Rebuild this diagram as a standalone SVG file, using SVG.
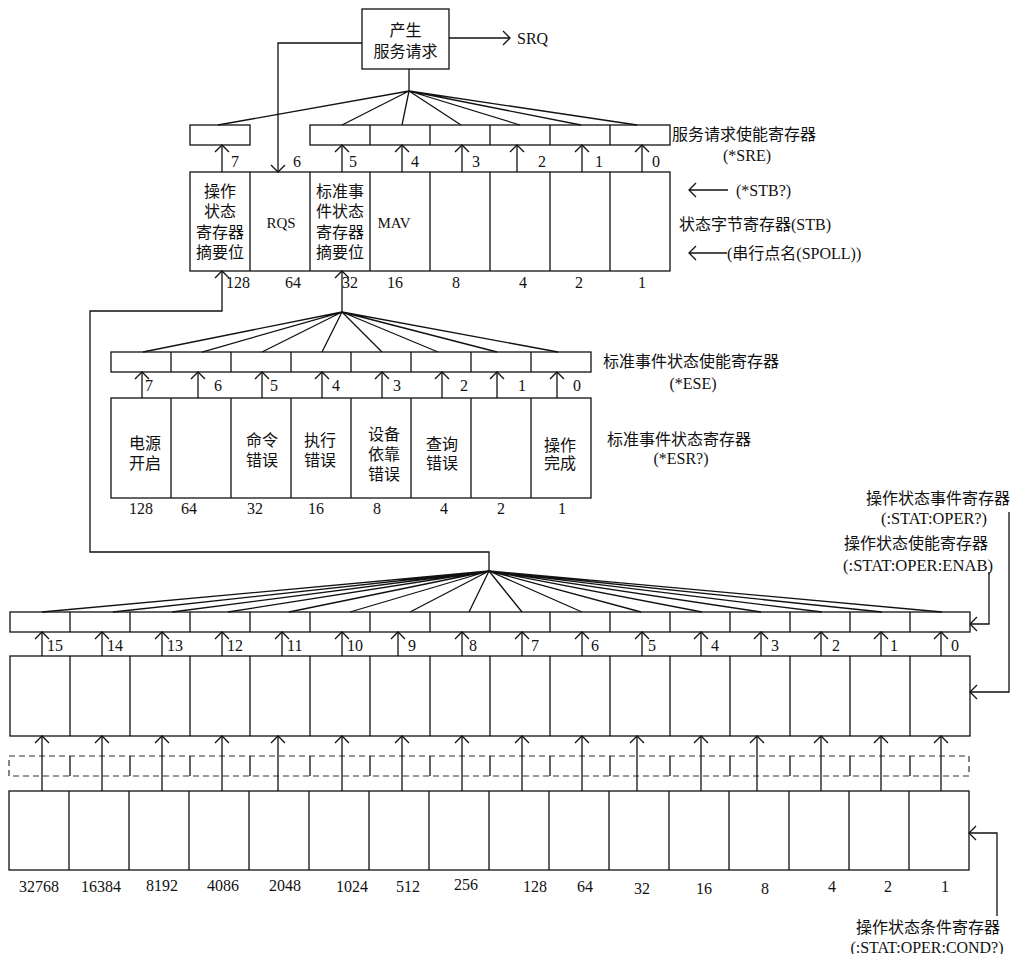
<svg xmlns="http://www.w3.org/2000/svg" width="1013" height="954" viewBox="0 0 1013 954">
<style>
.l{fill:none;stroke:#111;stroke-width:1.3}
.d{fill:none;stroke:#333;stroke-width:1.2;stroke-dasharray:6,4}
.t{font-family:"Liberation Serif","Times New Roman","DejaVu Serif","Noto Sans CJK SC",serif;font-size:16px;fill:#111}
.s{font-size:15px}
.m{text-anchor:middle}
.e{text-anchor:end}
.a{marker-end:url(#ah)}
</style>
<defs>
<marker id="ah" viewBox="-9 -9 18 18" markerWidth="18" markerHeight="18" refX="0" refY="0" orient="auto" markerUnits="userSpaceOnUse">
<path d="M-7,-7 L0,0 L-7,7" fill="none" stroke="#111" stroke-width="1.3"/>
</marker>
</defs>
<rect width="1013" height="954" fill="#fff"/>

<g id="gen-srq">
<rect class="l" x="362" y="9" width="87" height="60"/>
<text class="t m" x="405.5" y="36">产生</text>
<text class="t m" x="405.5" y="57">服务请求</text>
</g>
<text class="t" x="517" y="44">SRQ</text>

<g id="sre">
<rect class="l" x="190" y="125" width="60" height="20"/>
<rect class="l" x="310" y="125" width="360" height="20"/>
<path class="l" d="M370,125V145M430,125V145M490,125V145M550,125V145M610,125V145"/>
<text class="t" x="672" y="140">服务请求使能寄存器</text>
<text class="t m" x="747" y="161">(*SRE)</text>
</g>

<g id="stb">
<rect class="l" x="190" y="172" width="480" height="99"/>
<path class="l" d="M250,172V271M310,172V271M370,172V271M430,172V271M490,172V271M550,172V271M610,172V271"/>
<text class="t m" x="220" y="197">操作</text>
<text class="t m" x="220" y="217">状态</text>
<text class="t m" x="220" y="238">寄存器</text>
<text class="t m" x="220" y="258">摘要位</text>
<text class="t m s" x="281" y="228">RQS</text>
<text class="t m" x="340" y="197">标准事</text>
<text class="t m" x="340" y="217">件状态</text>
<text class="t m" x="340" y="238">寄存器</text>
<text class="t m" x="340" y="258">摘要位</text>
<text class="t m s" x="394" y="228">MAV</text>
<text class="t" x="736" y="196">(*STB?)</text>
<text class="t" x="679" y="230">状态字节寄存器(STB)</text>
<text class="t" x="727" y="259">(串行点名(SPOLL))</text>
</g>

<g id="stb-labels" class="t m">
<text x="235" y="167">7</text><text x="297" y="167">6</text><text x="353" y="167">5</text><text x="415" y="167">4</text>
<text x="476" y="167">3</text><text x="542" y="167">2</text><text x="599" y="167">1</text><text x="656" y="167">0</text>
<text x="238" y="288">128</text><text x="293" y="288">64</text><text x="350" y="288">32</text><text x="395" y="288">16</text>
<text x="456" y="288">8</text><text x="523" y="288">4</text><text x="579" y="288">2</text><text x="642" y="288">1</text>
</g>

<g id="ese">
<rect class="l" x="111" y="352" width="480" height="20"/>
<path class="l" d="M171,352V372M231,352V372M291,352V372M351,352V372M411,352V372M471,352V372M531,352V372"/>
<text class="t" x="603" y="367">标准事件状态使能寄存器</text>
<text class="t m" x="693" y="389">(*ESE)</text>
</g>

<g id="esr">
<rect class="l" x="111" y="398" width="480" height="100"/>
<path class="l" d="M171,398V498M231,398V498M291,398V498M351,398V498M411,398V498M471,398V498M531,398V498"/>
<text class="t m" x="145" y="449">电源</text>
<text class="t m" x="145" y="469">开启</text>
<text class="t m" x="262" y="446">命令</text>
<text class="t m" x="262" y="466">错误</text>
<text class="t m" x="320" y="446">执行</text>
<text class="t m" x="320" y="466">错误</text>
<text class="t m" x="384" y="440">设备</text>
<text class="t m" x="384" y="460">依靠</text>
<text class="t m" x="384" y="480">错误</text>
<text class="t m" x="442" y="450">查询</text>
<text class="t m" x="442" y="469">错误</text>
<text class="t m" x="560" y="451">操作</text>
<text class="t m" x="560" y="469">完成</text>
<text class="t" x="607" y="445">标准事件状态寄存器</text>
<text class="t m" x="681" y="464">(*ESR?)</text>
</g>

<g id="ese-labels" class="t m">
<text x="149" y="391">7</text><text x="218" y="391">6</text><text x="274" y="391">5</text><text x="336" y="391">4</text>
<text x="397" y="391">3</text><text x="464" y="391">2</text><text x="522" y="391">1</text><text x="577" y="391">0</text>
<text x="141" y="514">128</text><text x="189" y="514">64</text><text x="255" y="514">32</text><text x="316" y="514">16</text>
<text x="377" y="514">8</text><text x="444" y="514">4</text><text x="501" y="514">2</text><text x="562" y="514">1</text>
</g>

<g id="oper-enab">
<rect class="l" x="10" y="612" width="960" height="20"/>
<path class="l" d="M70,612V632M130,612V632M190,612V632M250,612V632M310,612V632M370,612V632M430,612V632M490,612V632M550,612V632M610,612V632M670,612V632M730,612V632M790,612V632M850,612V632M910,612V632"/>
<text class="t e" x="1010" y="504">操作状态事件寄存器</text>
<text class="t m" x="934" y="524" textLength="106" lengthAdjust="spacingAndGlyphs">(:STAT:OPER?)</text>
<text class="t m" x="916" y="549">操作状态使能寄存器</text>
<text class="t m" x="918" y="571" textLength="150" lengthAdjust="spacingAndGlyphs">(:STAT:OPER:ENAB)</text>
</g>

<g id="oper-event">
<rect class="l" x="10" y="656" width="960" height="80"/>
<path class="l" d="M70,656V736M130,656V736M190,656V736M250,656V736M310,656V736M370,656V736M430,656V736M490,656V736M550,656V736M610,656V736M670,656V736M730,656V736M790,656V736M850,656V736M910,656V736"/>
</g>

<g id="transition-filter">
<rect class="d" x="9" y="756" width="960" height="20"/>
<path class="l" d="M70,756V776M130,756V776M190,756V776M250,756V776M310,756V776M370,756V776M430,756V776M490,756V776M550,756V776M610,756V776M670,756V776M730,756V776M790,756V776M850,756V776M910,756V776"/>
</g>

<g id="oper-cond">
<rect class="l" x="9" y="791" width="960" height="79"/>
<path class="l" d="M69,791V870M129,791V870M189,791V870M249,791V870M309,791V870M369,791V870M429,791V870M489,791V870M549,791V870M609,791V870M669,791V870M729,791V870M789,791V870M849,791V870M909,791V870"/>
<text class="t m" x="928" y="933">操作状态条件寄存器</text>
<text class="t m" x="927" y="953" textLength="153" lengthAdjust="spacingAndGlyphs">(:STAT:OPER:COND?)</text>
</g>

<g id="oper-labels" class="t">
<text x="47" y="651">15</text><text x="107" y="651">14</text><text x="167" y="651">13</text><text x="227" y="651">12</text>
<text x="287" y="651">11</text><text x="347" y="651">10</text><text x="408" y="651">9</text><text x="469" y="651">8</text>
<text x="531" y="651">7</text><text x="591" y="651">6</text><text x="648" y="651">5</text><text x="711" y="651">4</text>
<text x="771" y="651">3</text><text x="832" y="651">2</text><text x="890" y="651">1</text><text x="951" y="651">0</text>
</g>
<g id="cond-values" class="t m">
<text x="39" y="892">32768</text><text x="101" y="892">16384</text><text x="162" y="891">8192</text><text x="223" y="891">4086</text>
<text x="285" y="891">2048</text><text x="352" y="892">1024</text><text x="408" y="892">512</text><text x="466" y="890">256</text>
<text x="535" y="892">128</text><text x="585" y="892">64</text><text x="642" y="894">32</text><text x="704" y="894">16</text>
<text x="765" y="894">8</text><text x="832" y="892">4</text><text x="888" y="892">2</text><text x="945" y="892">1</text>
</g>

<g id="connectors">
<path class="l a" d="M362,43H278V172"/>
<path class="l a" d="M449,38H510"/>
<path class="l" d="M409,69V91"/>
<path class="l" d="M409,91L218,125M409,91L342,125M409,91L402,125M409,91L461,125M409,91L520,125M409,91L581,125M409,91L637,125"/>
<path class="l a" d="M222,172V145"/>
<path class="l a" d="M342,172V145"/>
<path class="l a" d="M402,172V145"/>
<path class="l a" d="M462,172V145"/>
<path class="l a" d="M517,172V145"/>
<path class="l a" d="M582,172V145"/>
<path class="l a" d="M642,172V145"/>
<path class="l a" d="M728,190H689"/>
<path class="l a" d="M727,253H689"/>
<path class="l a" d="M489,571V552H90V311H222V271"/>
<path class="l a" d="M342,312V271"/>
<path class="l" d="M342,312L143,352M342,312L202,352M342,312L262,352M342,312L322,352M342,312L382,352M342,312L438,352M342,312L497,352M342,312L558,352"/>
<path class="l a" d="M142,398V372"/>
<path class="l a" d="M198,398V372"/>
<path class="l a" d="M262,398V372"/>
<path class="l a" d="M322,398V372"/>
<path class="l a" d="M382,398V372"/>
<path class="l a" d="M442,398V372"/>
<path class="l a" d="M497,398V372"/>
<path class="l a" d="M557,398V372"/>
<path class="l" d="M489,571L42,612M489,571L113,612M489,571L172,612M489,571L228,612M489,571L289,612M489,571L350,612M489,571L410,612M489,571L469,612M489,571L522,612M489,571L582,612M489,571L641,612M489,571L702,612M489,571L761,612M489,571L822,612M489,571L882,612M489,571L942,612"/>
<path class="l a" d="M42,656V632"/><path class="l a" d="M102,656V632"/><path class="l a" d="M162,656V632"/><path class="l a" d="M222,656V632"/>
<path class="l a" d="M282,656V632"/><path class="l a" d="M342,656V632"/><path class="l a" d="M398,656V632"/><path class="l a" d="M462,656V632"/>
<path class="l a" d="M522,656V632"/><path class="l a" d="M582,656V632"/><path class="l a" d="M642,656V632"/><path class="l a" d="M701,656V632"/>
<path class="l a" d="M761,656V632"/><path class="l a" d="M821,656V632"/><path class="l a" d="M881,656V632"/><path class="l a" d="M941,656V632"/>
<path class="l a" d="M42,791V736"/><path class="l a" d="M102,791V736"/><path class="l a" d="M162,791V736"/><path class="l a" d="M222,791V736"/>
<path class="l a" d="M278,791V736"/><path class="l a" d="M342,791V736"/><path class="l a" d="M402,791V736"/><path class="l a" d="M462,791V736"/>
<path class="l a" d="M522,791V736"/><path class="l a" d="M582,791V736"/><path class="l a" d="M637,791V736"/><path class="l a" d="M701,791V736"/>
<path class="l a" d="M757,791V736"/><path class="l a" d="M821,791V736"/><path class="l a" d="M881,791V736"/><path class="l a" d="M941,791V736"/>
<path class="l a" d="M989,572V624H970"/>
<path class="l a" d="M1009,512V692H970"/>
<path class="l a" d="M997,916V833H969"/>
</g>
</svg>
